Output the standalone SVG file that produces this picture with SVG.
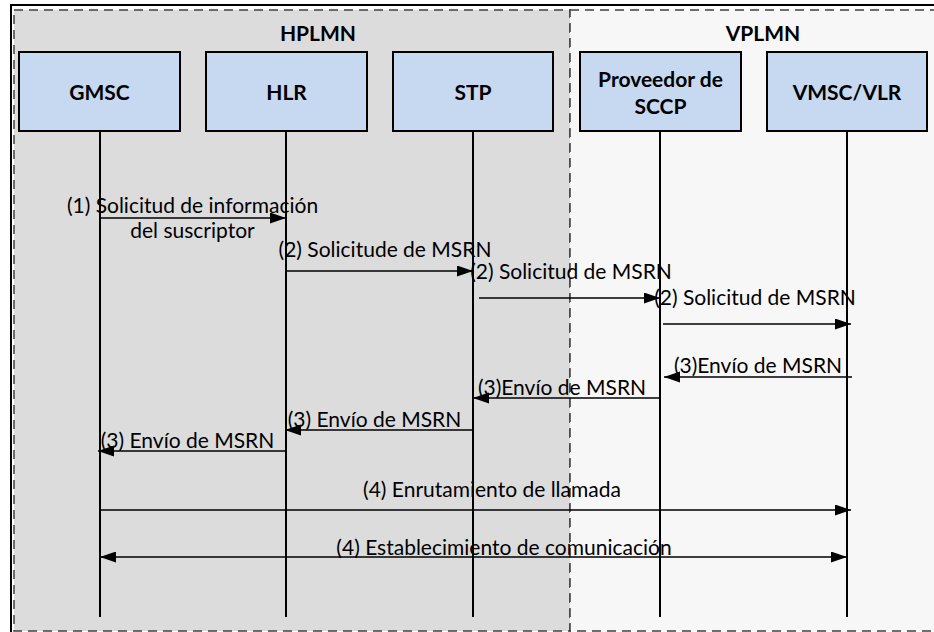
<svg xmlns="http://www.w3.org/2000/svg" width="934" height="632" viewBox="0 0 934 632">
<style>
  .zone{stroke:#404040;stroke-width:1.5;stroke-dasharray:9 6}
  .box{fill:#c6d9f0;stroke:#000;stroke-width:2}
  .life{stroke:#000;stroke-width:2}
  .lbl{font-family:Lato,"Open Sans",sans-serif;font-weight:bold;font-size:21px;text-anchor:middle;fill:#000}
  .msg{font-family:Lato,"Open Sans",sans-serif;font-size:21px;text-anchor:middle;fill:#000}
  .arr{stroke:#000;stroke-width:1.3;fill:none}
</style>
<defs>
  <marker id="ah" markerUnits="userSpaceOnUse" markerWidth="17" markerHeight="12" refX="16" refY="5.5" orient="auto">
    <path d="M0,0 L16,5.5 L0,11 z" fill="#000"/>
  </marker>
  <marker id="ahs" markerUnits="userSpaceOnUse" markerWidth="17" markerHeight="12" refX="0" refY="5.5" orient="auto">
    <path d="M16,0 L0,5.5 L16,11 z" fill="#000"/>
  </marker>
</defs>
<rect x="0" y="0" width="934" height="632" fill="#fff"/>
<g id="zones">
  <rect class="zone" x="14" y="10" width="556" height="621" fill="#dcdcdc"/>
  <rect class="zone" x="570" y="10" width="380" height="621" fill="#f7f7f7"/>
  <text class="lbl" x="318" y="41">HPLMN</text>
  <text class="lbl" x="763" y="41">VPLMN</text>
</g>
<rect x="11" y="5" width="940" height="640" fill="none" stroke="#000" stroke-width="2"/>
<g id="labels">
  <text class="msg" x="192.5" y="213">(1) Solicitud de información</text>
  <text class="msg" x="192.5" y="238">del suscriptor</text>
  <text class="msg" x="385" y="257">(2) Solicitude de MSRN</text>
  <text class="msg" x="571" y="279">(2) Solicitud de MSRN</text>
  <text class="msg" x="755" y="305">(2) Solicitud de MSRN</text>
  <text class="msg" x="758" y="373">(3)Envío de MSRN</text>
  <text class="msg" x="562" y="395">(3)Envío de MSRN</text>
  <text class="msg" x="374.5" y="427">(3) Envío de MSRN</text>
  <text class="msg" x="187.5" y="448">(3) Envío de MSRN</text>
  <text class="msg" x="492" y="497">(4) Enrutamiento de llamada</text>
  <text class="msg" x="504" y="555">(4) Establecimiento de comunicación</text>
</g>
<g id="GMSC">
  <line class="life" x1="100" y1="131" x2="100" y2="617"/>
  <rect class="box" x="19" y="52" width="161" height="79"/>
  <text class="lbl" x="99.5" y="100">GMSC</text>
</g>
<g id="HLR">
  <line class="life" x1="286" y1="131" x2="286" y2="617"/>
  <rect class="box" x="206" y="52" width="161" height="79"/>
  <text class="lbl" x="286.5" y="100">HLR</text>
</g>
<g id="STP">
  <line class="life" x1="473" y1="131" x2="473" y2="617"/>
  <rect class="box" x="393" y="52" width="160" height="79"/>
  <text class="lbl" x="473" y="100">STP</text>
</g>
<g id="SCCP">
  <line class="life" x1="660" y1="131" x2="660" y2="617"/>
  <rect class="box" x="580" y="52" width="161" height="79"/>
  <text class="lbl" x="660.5" y="87">Proveedor de</text>
  <text class="lbl" x="660.5" y="114">SCCP</text>
</g>
<g id="VMSC">
  <line class="life" x1="847" y1="131" x2="847" y2="617"/>
  <rect class="box" x="767" y="52" width="160" height="79"/>
  <text class="lbl" x="847" y="100">VMSC/VLR</text>
</g>
<g id="connectors">
  <line class="arr" x1="100" y1="218" x2="286" y2="218" marker-end="url(#ah)"/>
  <line class="arr" x1="286" y1="271" x2="473" y2="271" marker-end="url(#ah)"/>
  <line class="arr" x1="479" y1="298" x2="660" y2="298" marker-end="url(#ah)"/>
  <line class="arr" x1="663" y1="324" x2="851" y2="324" marker-end="url(#ah)"/>
  <line class="arr" x1="852" y1="377" x2="664" y2="377" marker-end="url(#ah)"/>
  <line class="arr" x1="660" y1="398" x2="473" y2="398" marker-end="url(#ah)"/>
  <line class="arr" x1="473" y1="430" x2="285" y2="430" marker-end="url(#ah)"/>
  <line class="arr" x1="286" y1="451" x2="98" y2="451" marker-end="url(#ah)"/>
  <line class="arr" x1="100" y1="510" x2="851" y2="510" marker-end="url(#ah)"/>
  <line class="arr" x1="100" y1="557" x2="847" y2="557" marker-start="url(#ahs)" marker-end="url(#ah)"/>
</g>
</svg>
